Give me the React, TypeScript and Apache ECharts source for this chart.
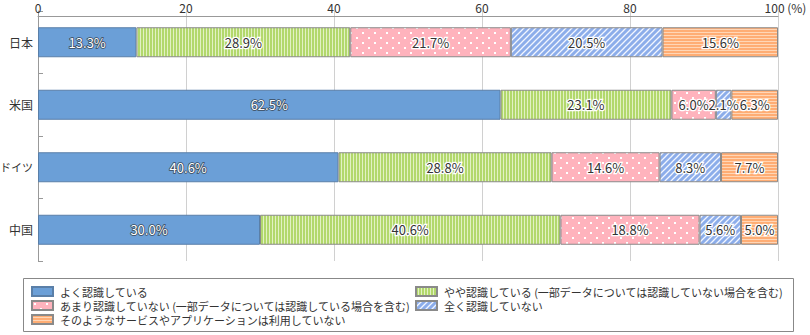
import React, { useEffect, useRef } from "react";
import * as echarts from "echarts";

const categories = ["日本", "米国", "ドイツ", "中国"];
const seriesNames = [
  "よく認識している",
  "やや認識している (一部データについては認識していない場合を含む)",
  "あまり認識していない (一部データについては認識している場合を含む)",
  "全く認識していない",
  "そのようなサービスやアプリケーションは利用していない",
];
const wellAware = [13.3, 62.5, 40.6, 30.0];
const somewhatAware = [28.9, 23.1, 28.8, 40.6];
const notVeryAware = [21.7, 6.0, 14.6, 18.8];
const notAtAllAware = [20.5, 2.1, 8.3, 5.6];
const notUsing = [15.6, 6.3, 7.7, 5.0];
const xTicks = [0, 20, 40, 60, 80, 100];

function makeCanvas(w: number, h: number, draw: (c: CanvasRenderingContext2D) => void) {
  const cv = document.createElement("canvas");
  cv.width = w;
  cv.height = h;
  const ctx = cv.getContext("2d")!;
  draw(ctx);
  return { image: cv, repeat: "repeat", imageWidth: w, imageHeight: h } as any;
}

export default function App() {
  const ref = useRef<HTMLDivElement>(null);
  useEffect(() => {
    if (!ref.current) return;
    const chart = echarts.init(ref.current, null, { renderer: "svg" });

    const green = makeCanvas(3, 3, (c) => {
      c.fillStyle = "#e2f1c4";
      c.fillRect(0, 0, 3, 3);
      c.fillStyle = "#b2d86c";
      c.fillRect(0, 0, 2, 3);
    });
    const pink = makeCanvas(12, 10, (c) => {
      c.fillStyle = "#ffb3bd";
      c.fillRect(0, 0, 12, 10);
      c.fillStyle = "#ffffff";
      c.fillRect(2, 2, 2, 2);
      c.fillRect(8, 7, 2, 2);
    });
    const hatch = makeCanvas(6, 6, (c) => {
      c.fillStyle = "#8cadea";
      c.fillRect(0, 0, 6, 6);
      c.strokeStyle = "#f2f6ff";
      c.lineWidth = 1.3;
      c.beginPath();
      c.moveTo(-1, 7);
      c.lineTo(7, -1);
      c.moveTo(-1, 1);
      c.lineTo(1, -1);
      c.moveTo(5, 7);
      c.lineTo(7, 5);
      c.stroke();
    });
    const orange = makeCanvas(3, 3, (c) => {
      c.fillStyle = "#ffd6b6";
      c.fillRect(0, 0, 3, 3);
      c.fillStyle = "#ffad74";
      c.fillRect(0, 0, 3, 2);
    });

    const fills = ["#6b9fd7", green, pink, hatch, orange];
    const values = [wellAware, somewhatAware, notVeryAware, notAtAllAware, notUsing];
    const font = "'Noto Sans CJK JP', 'Noto Sans', sans-serif";

    const series = values.map((vals, i) => ({
      name: seriesNames[i],
      type: "bar",
      stack: "total",
      barWidth: 30,
      data: vals,
      itemStyle: {
        color: fills[i],
        borderColor: i === 0 ? "#5a7fa8" : "#8a8a8a",
        borderWidth: 1,
      },
      label: {
        show: true,
        position: "inside",
        formatter: (p: any) => p.value.toFixed(1) + "%",
        fontFamily: font,
        fontSize: 13,
        color: i === 0 ? "#ffffff" : "#333333",
        textBorderColor: i === 0 ? "#3a4a5a" : "#ffffff",
        textBorderWidth: i === 0 ? 1.5 : 2.5,
      },
      emphasis: { disabled: true },
    }));

    const legendCommon = {
      orient: "vertical",
      icon: "rect",
      itemWidth: 21,
      itemHeight: 9,
      itemGap: 1,
      selectedMode: false,
      textStyle: { fontFamily: font, fontSize: 11, color: "#333", lineHeight: 13, height: 13, padding: [0, 0, 0, 2] },
      padding: 0,
    };

    chart.setOption({
      animation: false,
      grid: { left: 38, right: 32, top: 11, bottom: 74, outerBoundsMode: "none", containLabel: false },
      xAxis: {
        type: "value",
        position: "top",
        min: 0,
        max: 100,
        interval: 20,
        offset: -5,
        axisLine: { show: true, lineStyle: { color: "#999" } },
        axisTick: { show: false },
        splitLine: { show: true, lineStyle: { color: "#d0d0d0" } },
        axisLabel: {
          margin: 2,
          fontFamily: font,
          fontSize: 12,
          lineHeight: 13,
          color: "#333",
          customValues: xTicks,
          formatter: (v: number) => (v === 100 ? "{p|100 (%)}" : String(v)),
          rich: { p: { fontFamily: font, fontSize: 12, lineHeight: 13, color: "#333", padding: [0, 0, 0, 15] } },
        },
      },
      yAxis: {
        type: "category",
        inverse: true,
        data: categories,
        axisLine: { show: true, lineStyle: { color: "#999" } },
        axisTick: { show: true, inside: true, length: 5, lineStyle: { color: "#999" } },
        axisLabel: {
          margin: 5,
          fontFamily: font,
          fontSize: 12,
          color: "#333",
          formatter: (v: string) => (v.length > 2 ? "{s|" + v + "}" : v),
          rich: { s: { fontFamily: font, fontSize: 11, color: "#333" } },
        },
      },
      legend: [
        { ...legendCommon, left: 31, top: 285, data: [seriesNames[0], seriesNames[2], seriesNames[4]] },
        { ...legendCommon, left: 415, top: 285, data: [seriesNames[1], seriesNames[3]] },
      ],
      graphic: [
        {
          type: "rect",
          shape: { x: 23.5, y: 278.5, width: 770, height: 53 },
          style: { fill: "none", stroke: "#888", lineWidth: 1 },
          silent: true,
        },
      ],
      series,
    });
    return () => chart.dispose();
  }, []);
  return <div ref={ref} style={{ width: 810, height: 335, position: "absolute", left: 0, top: 0 }} />;
}
